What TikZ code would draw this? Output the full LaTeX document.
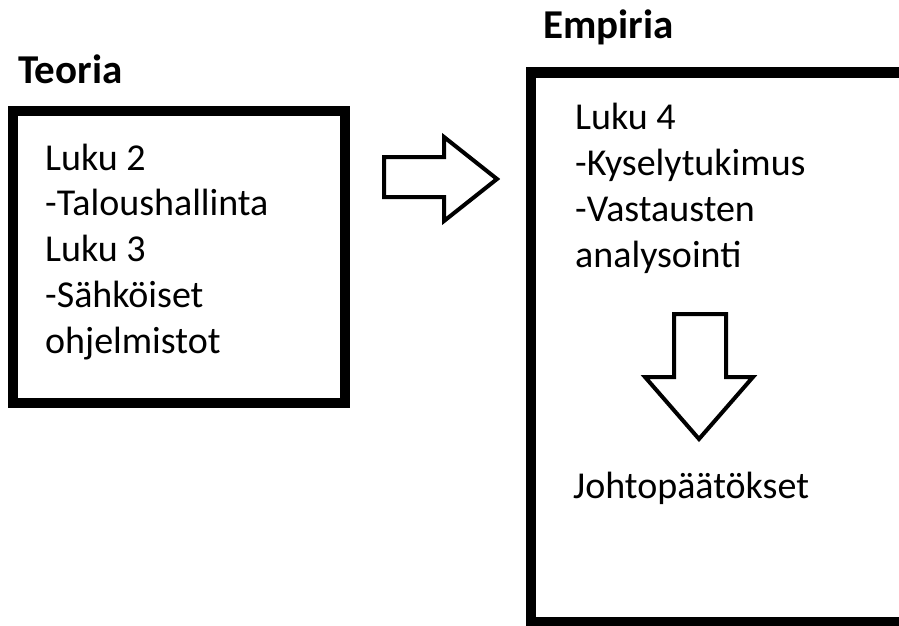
\documentclass[tikz,border=0pt]{standalone}
\usepackage{fontspec}
\setmainfont{Carlito}
\tikzset{
  frame/.style={draw=black, line width=10pt},
  heading/.style={anchor=base west, inner sep=0pt, font=\fontsize{41}{48}\selectfont\bfseries},
  body/.style={anchor=base west, inner sep=0pt, align=left, font=\fontsize{38}{45.7}\selectfont},
  blockarrow/.style={draw=black, line width=4pt, line join=miter, fill=white},
}

\begin{document}
\begin{tikzpicture}[x=1pt,y=-1pt]
  \useasboundingbox (0,0) rectangle (899,626);

  % --- (A) Theory box ---
  \begin{scope}
    \node[heading] (teoria) at (18,84) {Teoria};
    \draw[frame] (13,111) rectangle (345,403);
    % anchored at the baseline of the last line
    \node[body] (teoriatext) at (45,353)
      {Luku 2\\-Taloushallinta\\Luku 3\\-Sähköiset\\ohjelmistot};
  \end{scope}

  % --- arrow from theory to empirics ---
  \draw[blockarrow] (384,157) -- (444,157) -- (444,137) -- (497,179)
    -- (444,221) -- (444,197) -- (384,197) -- cycle;

  % --- (B) Empirics box ---
  \begin{scope}
    \node[heading] (empiria) at (543,39) {Empiria};
    \draw[frame] (530.5,72.5) rectangle (920,621.5);
    \node[body] (empiriatext) at (575,267)
      {Luku 4\\-Kyselytukimus\\-Vastausten\\analysointi};

    % downward arrow to the conclusions
    \draw[blockarrow] (674,314) -- (726,314) -- (726,377) -- (753,377)
      -- (699,439) -- (645,377) -- (674,377) -- cycle;
    \node[body] (johto) at (573,498) {Johtopäätökset};
  \end{scope}

\end{tikzpicture}
\end{document}
